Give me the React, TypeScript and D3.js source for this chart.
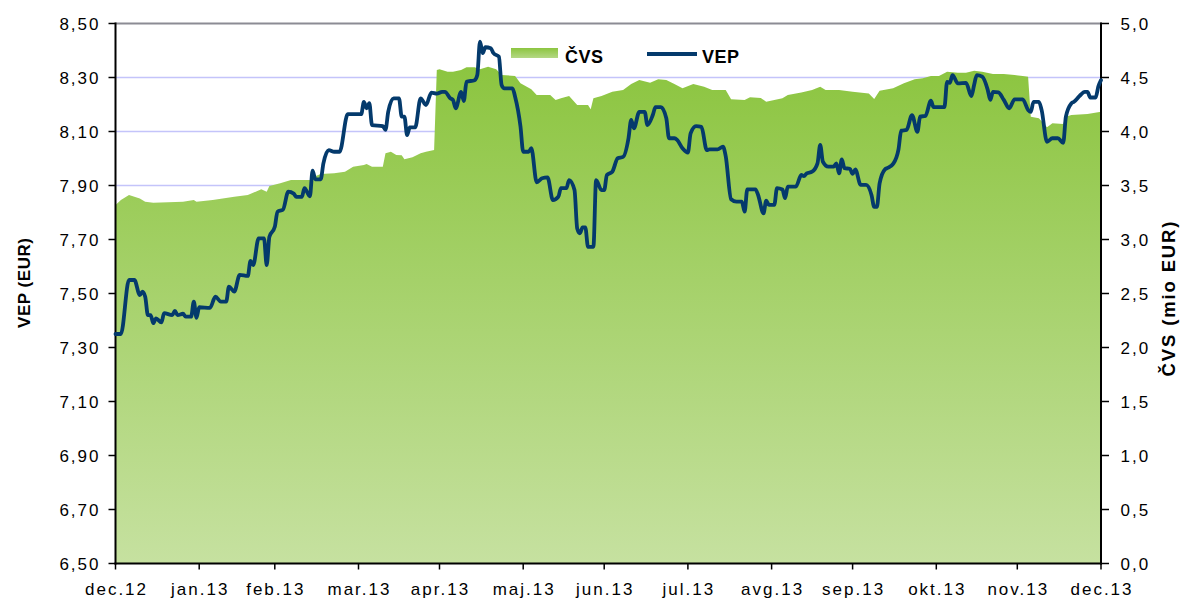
import React from "react";
import * as d3 from "d3";

// ---- Data ----
// Month-end tick labels (Slovenian abbreviations)
const monthLabels = [
  "dec.12", "jan.13", "feb.13", "mar.13", "apr.13", "maj.13", "jun.13",
  "jul.13", "avg.13", "sep.13", "okt.13", "nov.13", "dec.13",
];
const leftTicks = [6.5, 6.7, 6.9, 7.1, 7.3, 7.5, 7.7, 7.9, 8.1, 8.3, 8.5];
const rightTicks = [0, 0.5, 1, 1.5, 2, 2.5, 3, 3.5, 4, 4.5, 5];

// VEP (unit value, EUR): days after 31.12.2012 and values
const vepDays = [
  0, 2, 5, 7, 9, 10, 11, 12, 13, 14, 15, 17, 18, 21, 22, 23, 25, 26, 28, 29, 30, 31, 35, 37, 39, 41,
  42, 44, 46, 49, 50, 51, 53, 55, 56, 57, 59, 60, 62, 64, 66, 67, 69, 70, 72, 73, 74, 76, 77, 79,
  81, 83, 86, 91, 92, 93, 94, 95, 99, 100, 101, 103, 105, 106, 107, 108, 109, 111, 113, 115, 117,
  119, 121, 122, 124, 125, 126, 128, 129, 130, 133, 134, 135, 136, 137, 139, 140, 142, 143, 144,
  147, 148, 150, 151, 153, 154, 156, 158, 160, 162, 164, 165, 167, 168, 170, 171, 172, 173, 174,
  175, 177, 178, 180, 181, 182, 184, 186, 188, 190, 191, 192, 194, 196, 197, 199, 200, 202, 204,
  205, 207, 208, 210, 212, 213, 215, 217, 219, 220, 223, 225, 226, 228, 230, 232, 233, 234, 237,
  238, 240, 241, 242, 244, 245, 247, 248, 249, 252, 254, 255, 256, 258, 260, 261, 262, 264, 266,
  267, 268, 269, 270, 272, 273, 274, 276, 278, 280, 281, 282, 283, 285, 286, 288, 290, 291, 293,
  295, 297, 298, 300, 302, 303, 307, 308, 309, 310, 312, 315, 317, 318, 319, 321, 323, 324, 325,
  327, 329, 331, 333, 336, 338, 339, 340, 342, 343, 345, 347, 349, 351, 352, 354, 355, 357, 359,
  360, 361, 363, 364, 365,
];
const vepValues = [
  7.35, 7.35, 7.55, 7.55, 7.494, 7.507, 7.488, 7.42, 7.42, 7.39, 7.408, 7.393, 7.427, 7.42, 7.436,
  7.42, 7.425, 7.414, 7.414, 7.47, 7.41, 7.449, 7.447, 7.488, 7.47, 7.47,
  7.525, 7.507, 7.569, 7.565, 7.621, 7.605, 7.704, 7.704, 7.605, 7.71, 7.747, 7.803, 7.81, 7.877,
  7.87, 7.858, 7.858, 7.89, 7.86, 7.955, 7.923, 7.923, 7.982, 8.031,
  8.025, 8.025, 8.164, 8.164, 8.21, 8.186, 8.205, 8.124, 8.12, 8.106, 8.173, 8.223, 8.223, 8.155,
  8.155, 8.087, 8.115, 8.115, 8.223, 8.198, 8.244,
  8.24, 8.247, 8.247, 8.223, 8.217, 8.186, 8.247, 8.213, 8.284, 8.29, 8.309, 8.433, 8.39, 8.412,
  8.408, 8.39, 8.377, 8.272, 8.26,
  8.26, 8.229, 8.118, 8.025, 8.025, 8.038, 7.912, 7.927, 7.93, 7.846, 7.858, 7.89, 7.89, 7.92,
  7.883, 7.741, 7.723, 7.745, 7.745,
  7.673, 7.673, 7.92, 7.883, 7.883, 7.939, 7.951, 8.001, 8.006, 8.075, 8.143, 8.112, 8.173, 8.173,
  8.124, 8.161, 8.19, 8.19, 8.149,
  8.075, 8.075, 8.069, 8.038, 8.022, 8.093, 8.12, 8.117, 8.031, 8.034, 8.034, 8.044, 8.009, 7.849,
  7.84, 7.84, 7.803, 7.886, 7.886,
  7.865, 7.797, 7.844, 7.828, 7.828, 7.89, 7.885, 7.853, 7.896, 7.896, 7.939, 7.935, 7.945, 7.951,
  7.982, 8.05, 7.988, 7.97, 7.97,
  7.982, 7.945, 7.997, 7.964, 7.962, 7.943, 7.96, 7.902, 7.902, 7.865, 7.821, 7.821, 7.908, 7.96,
  7.965, 7.98, 8.034, 8.103, 8.106,
  8.161, 8.099, 8.155, 8.158, 8.214, 8.19, 8.19, 8.284, 8.28, 8.309, 8.278, 8.28, 8.231, 8.272,
  8.309, 8.303, 8.256, 8.217, 8.247,
  8.245, 8.217, 8.186, 8.219, 8.219, 8.18, 8.173, 8.21, 8.21, 8.18, 8.062, 8.075, 8.075, 8.058,
  8.155, 8.204, 8.21, 8.231, 8.247,
  8.247, 8.226, 8.226, 8.266, 8.29,
];

// ČVS (net asset value, mio EUR): days after 31.12.2012 and values
const cvsDays = [
  0, 2, 5, 9, 11, 14, 25, 29, 30, 36, 44, 49, 54, 56, 57, 61, 65, 68, 72, 73, 76, 81, 85, 88, 92,
  93, 95, 99, 100, 102, 104, 106, 107, 110, 113, 115, 118, 119, 120, 123, 125, 128, 130, 133, 135,
  138, 141, 143, 148, 150, 154, 156, 161, 163, 165, 168, 171, 175, 176, 177, 180, 184, 188, 191,
  194, 198, 201, 204, 207, 210, 214, 218, 221, 226, 228, 233, 235, 239, 241, 244, 247, 249, 254,
  258, 261, 263, 268, 273, 279, 281, 283, 288, 292, 296, 299, 302, 305, 308, 312, 315, 318, 321,
  325, 329, 333, 336, 338, 339, 342, 345, 347, 351, 352, 354, 360, 365,
];
const cvsValues = [
  3.319, 3.366, 3.412, 3.38, 3.35, 3.341, 3.35, 3.366, 3.35, 3.366, 3.396, 3.412, 3.465, 3.443,
  3.495, 3.52, 3.551, 3.551, 3.55, 3.576, 3.606, 3.613, 3.628, 3.674, 3.69,
  3.7, 3.674, 3.674, 3.798, 3.813, 3.782, 3.78, 3.743, 3.761, 3.798, 3.813, 3.829, 4.569, 4.576,
  4.554, 4.554, 4.569, 4.594, 4.594, 4.576,
  4.6, 4.576, 4.523, 4.514, 4.446, 4.391, 4.338, 4.338, 4.292, 4.307, 4.329, 4.245, 4.245, 4.205,
  4.307, 4.329, 4.368, 4.384, 4.44,
  4.477, 4.452, 4.483, 4.477, 4.44, 4.4, 4.44, 4.415, 4.384, 4.384, 4.298, 4.292, 4.316, 4.31,
  4.276, 4.292, 4.307, 4.338, 4.36,
  4.384, 4.415, 4.384, 4.384, 4.368, 4.353, 4.301, 4.378, 4.4, 4.446, 4.483, 4.493, 4.514, 4.514,
  4.554, 4.545, 4.545, 4.563, 4.554,
  4.532, 4.532, 4.523, 4.515, 4.508, 4.137, 4.122, 4.039, 4.076, 4.07, 4.137, 4.153, 4.162, 4.183,
];

// ---- Layout ----
const W = 1186;
const H = 599;
const left = 115.5;
const right = 1101;
const top = 23.5;
const bottom = 563.5;

const FONT = "'Liberation Sans', Arial, sans-serif";

export default function App() {
  const start = new Date(2012, 11, 31);
  const end = new Date(2013, 11, 31);
  const x = d3.scaleTime().domain([start, end]).range([left, right]);
  const yL = d3.scaleLinear().domain([6.5, 8.5]).range([bottom, top]);
  const yR = d3.scaleLinear().domain([0, 5]).range([bottom, top]);

  const vep = vepDays.map((d, i) => ({ date: d3.timeDay.offset(start, d), v: vepValues[i] }));
  const cvs = cvsDays.map((d, i) => ({ date: d3.timeDay.offset(start, d), v: cvsValues[i] }));

  const tickDates = monthLabels.map((_, i) => new Date(2012, 12 + i, 0));

  const areaPath = d3
    .area<{ date: Date; v: number }>()
    .x((d) => x(d.date))
    .y0(yR(0))
    .y1((d) => yR(d.v))(cvs) as string;

  const linePath = d3
    .line<{ date: Date; v: number }>()
    .curve(d3.curveMonotoneX)
    .x((d) => x(d.date))
    .y((d) => yL(d.v))(vep) as string;

  const fmt = (v: number, n: number) => v.toFixed(n).replace(".", ",");

  return (
    <svg
      width={W}
      height={H}
      style={{ position: "absolute", left: 0, top: 0, background: "#fff" }}
      fontFamily={FONT}
    >
      <defs>
        <linearGradient id="cvsGrad" gradientUnits="userSpaceOnUse" x1="0" y1={yR(4.6)} x2="0" y2={bottom}>
          <stop offset="0" stopColor="#8cc540" />
          <stop offset="1" stopColor="#c6e1a0" />
        </linearGradient>
        <linearGradient id="legGrad" x1="0" y1="0" x2="0" y2="1">
          <stop offset="0" stopColor="#8cc540" />
          <stop offset="1" stopColor="#b4d884" />
        </linearGradient>
      </defs>

      {/* gridlines */}
      {leftTicks.slice(1, -1).map((t) => (
        <line key={"g" + t} x1={left} x2={right} y1={yL(t)} y2={yL(t)} stroke="#c4c4fa" strokeWidth={1.6} />
      ))}
      <line x1={left} x2={right} y1={yL(8.5)} y2={yL(8.5)} stroke="#8c8c94" strokeWidth={2} />

      {/* ČVS area */}
      <path d={areaPath} fill="url(#cvsGrad)" />

      {/* axes */}
      <line x1={left} x2={left} y1={top - 1} y2={bottom + 1} stroke="#000" strokeWidth={2} />
      <line x1={right} x2={right} y1={top - 1} y2={bottom + 1} stroke="#000" strokeWidth={2} />
      <line x1={left - 1} x2={right + 1} y1={bottom} y2={bottom} stroke="#000" strokeWidth={2} />

      {leftTicks.map((t) => (
        <g key={"l" + t}>
          <line x1={left - 7} x2={left} y1={yL(t)} y2={yL(t)} stroke="#000" strokeWidth={1.5} />
          <text x={100.5} y={yL(t) + 6} textAnchor="end" fontSize={17} letterSpacing={2} fill="#000">
            {fmt(t, 2)}
          </text>
        </g>
      ))}
      {rightTicks.map((t) => (
        <g key={"r" + t}>
          <line x1={right} x2={right + 8} y1={yR(t)} y2={yR(t)} stroke="#000" strokeWidth={1.5} />
          <text x={1120.5} y={yR(t) + 6} textAnchor="start" fontSize={17} letterSpacing={2} fill="#000">
            {fmt(t, 1)}
          </text>
        </g>
      ))}
      {tickDates.map((d, i) => (
        <g key={"x" + i}>
          <line x1={x(d)} x2={x(d)} y1={bottom} y2={bottom + 6} stroke="#000" strokeWidth={1.5} />
          <text x={x(d) + 1} y={595} textAnchor="middle" fontSize={17} letterSpacing={2} fill="#000">
            {monthLabels[i]}
          </text>
        </g>
      ))}

      {/* VEP line */}
      <path d={linePath} fill="none" stroke="#043a6c" strokeWidth={3.8} strokeLinejoin="round" strokeLinecap="round" />

      {/* axis titles */}
      <text
        transform="translate(30,283) rotate(-90)"
        textAnchor="middle"
        fontSize={17}
        fontWeight="bold"
        textLength={90}
        lengthAdjust="spacing"
        fill="#000"
      >
        VEP (EUR)
      </text>
      <text
        transform="translate(1175,299) rotate(-90)"
        textAnchor="middle"
        fontSize={18.5}
        fontWeight="bold"
        textLength={155}
        lengthAdjust="spacing"
        fill="#000"
      >
        ČVS (mio EUR)
      </text>

      {/* legend */}
      <rect x={511} y={48} width={47} height={10} fill="url(#legGrad)" />
      <text x={565} y={62.5} fontSize={18} fontWeight="bold" letterSpacing={0.5} fill="#000">
        ČVS
      </text>
      <line x1={647} x2={697} y1={54} y2={54} stroke="#043a6c" strokeWidth={3.8} />
      <text x={702} y={62.5} fontSize={18} fontWeight="bold" letterSpacing={0.5} fill="#000">
        VEP
      </text>
    </svg>
  );
}
